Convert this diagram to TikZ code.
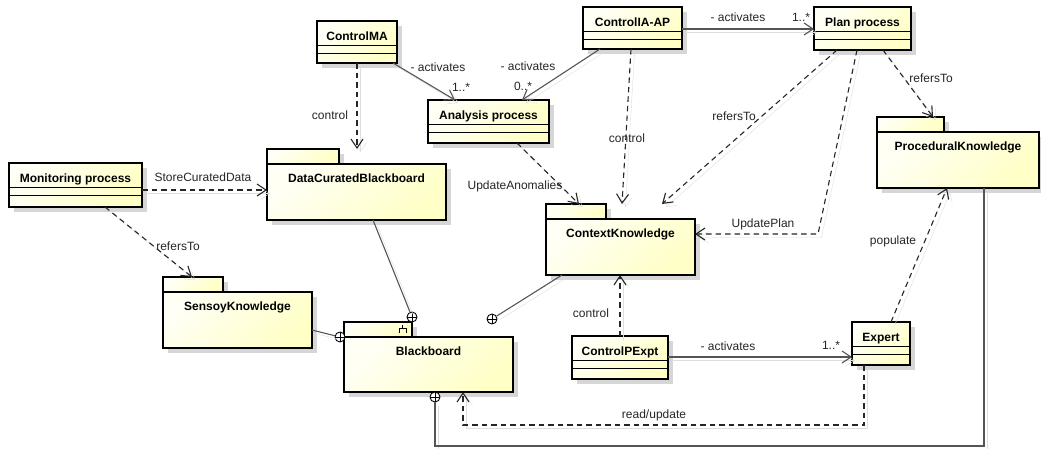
\documentclass[tikz,border=0pt]{standalone}
\usepackage{fontspec}
\setmainfont{Liberation Sans}
\usetikzlibrary{arrows.meta,calc}
\definecolor{fillA}{HTML}{FFFFF6}
\definecolor{fillB}{HTML}{FFFFC6}
\definecolor{shadowc}{HTML}{D6D6D6}
\definecolor{lineshadow}{HTML}{DEDEDE}
\definecolor{connc}{HTML}{555555}
\tikzset{
  boxbase/.style={draw=black, line width=1.6pt, top color=fillA, bottom color=fillB, shading angle=45,
    inner sep=0pt, outer sep=0pt, anchor=north west},
  nametext/.style={font=\bfseries\fontsize{12}{14}\selectfont, inner sep=0pt, anchor=base},
  lbl/.style={font=\fontsize{12}{14}\selectfont, text=black!85, inner sep=0pt},
  shadowpre/.style={preaction={draw=lineshadow, solid, transform canvas={shift={(3.5pt,-3.5pt)}}}},
  vtip/.style={-{Straight Barb[length=9pt,width=12pt,line width=1.1pt]}},
  dep/.style={shadowpre, draw=black!85, line width=1.1pt, dash pattern=on 5.5pt off 4pt, vtip},
  assoc/.style={shadowpre, draw=connc, line width=1.1pt, vtip},
  plainline/.style={shadowpre, draw=connc, line width=1.1pt},
  oplus/.style={circle, draw=black, line width=0.9pt, fill=white, minimum size=10pt, inner sep=0pt,
    path picture={\draw[line width=0.9pt] (path picture bounding box.north) -- (path picture bounding box.south)
      (path picture bounding box.west) -- (path picture bounding box.east);}},
}
% class: name, x1, y1, x2, y2, text
\newcommand{\umlclass}[6]{%
  \fill[shadowc] (#2+5,#3+5) rectangle (#4+5,#5+5);
  \node[boxbase, minimum width={(#4-#2)*1pt}, minimum height={(#5-#3)*1pt}] (#1) at (#2,#3) {};
  \draw[line width=1.3pt] (#2,#3+24.5) -- (#4,#3+24.5) (#2,#3+32.5) -- (#4,#3+32.5);
  \node[nametext] at ({(#2+#4)/2},#3+19) {#6};
}
% package: name, tab x2, tab top, x1, y1, x2, y2, text
\newcommand{\umlpkg}[8]{%
  \fill[shadowc] (#4+5,#3+5) rectangle (#2+5,#5+5);
  \fill[shadowc] (#4+5,#5+5) rectangle (#6+5,#7+5);
  \node[boxbase, minimum width={(#2-#4)*1pt}, minimum height={(#5-#3)*1pt}] (#1tab) at (#4,#3) {};
  \node[boxbase, minimum width={(#6-#4)*1pt}, minimum height={(#7-#5)*1pt}] (#1) at (#4,#5) {};
  \node[nametext] at ({(#4+#6)/2},#5+18.5) {#8};
}
\begin{document}
\begin{tikzpicture}[x=1pt,y=-1pt]
\useasboundingbox[fill=white] (0,0) rectangle (1041,448);

% classes
\umlclass{cma}{317}{21}{397}{63}{ControlMA}
\umlclass{ciaap}{583}{7}{682}{49}{ControlIA-AP}
\umlclass{plan}{814}{7}{911}{50}{Plan process}
\umlclass{ana}{428}{100}{549}{143}{Analysis process}
\umlclass{mon}{9}{163}{142}{207}{Monitoring process}
\umlclass{cpe}{572}{336}{668}{379}{ControlPExpt}
\umlclass{exp}{852}{322}{910}{365}{Expert}

% packages
\umlpkg{dcb}{339}{149}{267}{164}{446}{220}{DataCuratedBlackboard}
\umlpkg{ck}{606}{204}{546}{219}{695}{275}{ContextKnowledge}
\umlpkg{pk}{944}{117}{877}{132}{1039}{188}{ProceduralKnowledge}
\umlpkg{sk}{223}{277}{163}{292}{312}{348}{SensoyKnowledge}
\umlpkg{bb}{412}{322}{344}{337}{513}{392}{Blackboard}
\draw[line width=0.8pt] (399,333) -- (399,328) -- (406,328) -- (406,333) (402.5,328) -- (402.5,325);

% composition circles
\node[oplus] (op1) at (412,317) {};
\node[oplus] (op2) at (492,319) {};
\node[oplus] (op3) at (340,337) {};
\node[oplus] (op4) at (435,397) {};

% dependencies
\draw[dep] (mon.east |- 0,190) -- (dcb.west |- 0,190);
\node[lbl] at (203,177) {StoreCuratedData};
\draw[dep] (105,0 |- mon.south) -- (192,0 |- sktab.north);
\node[lbl] at (178,246) {refersTo};
\draw[dep] (357,0 |- cma.south) -- (357,0 |- dcbtab.north);
\node[lbl] at (330,115) {control};
\draw[dep] (631,0 |- ciaap.south) -- (622,0 |- cktab.north);
\node[lbl] at (627,138) {control};
\draw[dep] (517,0 |- ana.south) -- (579,0 |- cktab.north);
\node[lbl] at (515,186) {UpdateAnomalies};
\draw[dep] (837,0 |- plan.south) -- (662,0 |- cktab.north);
\node[lbl] at (734,116) {refersTo};
\draw[dep] (857,0 |- plan.south) -- (818,234) -- (ck.east |- 0,234);
\node[lbl] at (763,224) {UpdatePlan};
\draw[dep] (883,0 |- plan.south) -- (933,0 |- pktab.north);
\node[lbl] at (931,78) {refersTo};
\draw[dep] (891,0 |- exp.north) -- (947,0 |- pk.south);
\node[lbl] at (893,241) {populate};
\draw[dep] (620,0 |- cpe.north) -- (620,0 |- ck.south);
\node[lbl] at (591,313) {control};
\draw[dep] (864,0 |- exp.south) -- (864,425) -- (463,425) -- (463,0 |- bb.south);
\node[lbl] at (654,415) {read/update};

% associations
\draw[assoc] (393,0 |- cma.south) -- (455,0 |- ana.north);
\node[lbl] at (438,67) {- activates};
\node[lbl] at (461,87) {1..*};
\draw[assoc] (600,0 |- ciaap.south) -- (522,0 |- ana.north);
\node[lbl] at (528,66) {- activates};
\node[lbl] at (523,86) {0..*};
\draw[assoc] (ciaap.east |- 0,29) -- (plan.west |- 0,29);
\node[lbl] at (738,17) {- activates};
\node[lbl] at (801,17) {1..*};
\draw[assoc] (cpe.east |- 0,357) -- (exp.west |- 0,357);
\node[lbl] at (728,346) {- activates};
\node[lbl] at (831,345) {1..*};

% compositions to Blackboard
\draw[plainline] (373,0 |- dcb.south) -- (op1);
\draw[plainline] (562,0 |- ck.south) -- (op2);
\draw[plainline] (sk.east |- 0,330) -- (op3);
\draw[plainline] (984,0 |- pk.south) -- (984,446) -- (435,446) -- (op4.south);
\end{tikzpicture}
\end{document}
